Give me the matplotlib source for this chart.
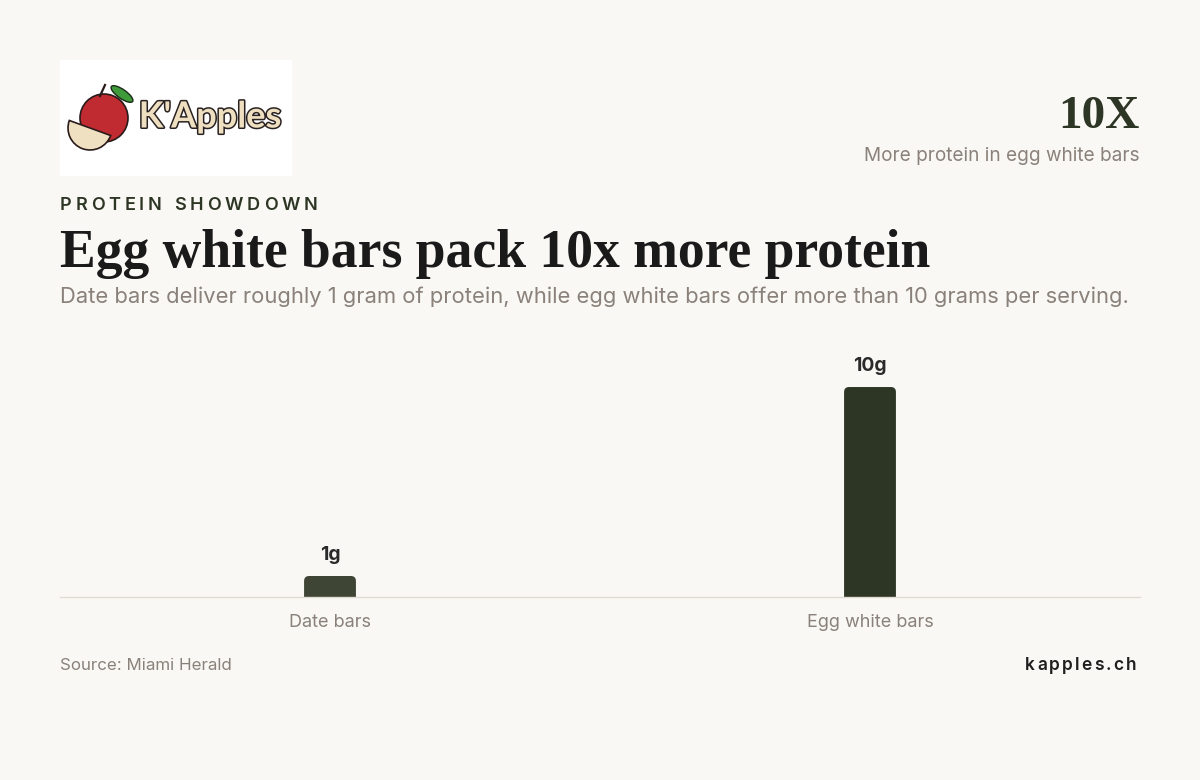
import matplotlib
matplotlib.use("Agg")
import matplotlib.pyplot as plt
from matplotlib.patches import FancyBboxPatch, Circle, Ellipse, Wedge, Rectangle
import matplotlib.patheffects as pe

# ---- data ----
categories = ["Date bars", "Egg white bars"]
values = [1, 10]
value_labels = ["1g", "10g"]
kicker = "PROTEIN SHOWDOWN"
title = "Egg white bars pack 10x more protein"
subtitle = ("Date bars deliver roughly 1 gram of protein, while egg white bars "
            "offer more than 10 grams per serving.")
stat_big = "10X"
stat_caption = "More protein in egg white bars"
source = "Source: Miami Herald"
site = "kapples.ch"

W, H = 1200, 780
BG = "#f9f8f4"
DARK = "#2d3624"
GREY = "#8a817a"

fig = plt.figure(figsize=(W / 100, H / 100), dpi=100, facecolor=BG)

def fx(x):
    return x / W

def fy(y):
    return 1 - y / H

renderer = fig.canvas.get_renderer()

def tracked(x, y, s, tracking, **kw):
    for ch in s:
        t = fig.text(fx(x), fy(y), ch, **kw)
        if ch == " ":
            w = t.get_fontsize() * 0.28 / 0.72
        else:
            w = t.get_window_extent(renderer).width
        x += w + tracking

# ---- logo ----
lax = fig.add_axes([fx(60), fy(176), 232 / W, 116 / H])
lax.set_xlim(0, 232)
lax.set_ylim(116, 0)
lax.axis("off")
lax.add_patch(Rectangle((0, 0), 232, 116, color="white", zorder=0))
lax.add_patch(Circle((44, 58), 24, facecolor="#bf2b30", edgecolor="#2a1a1a", lw=1.2, zorder=2))
lax.add_patch(Ellipse((62, 34), 26, 9, angle=35, facecolor="#3f9a3a", edgecolor="#1c2a1a", lw=1, zorder=3))
lax.plot([40, 45], [36, 25], color="#2a1a1a", lw=1.6, zorder=3)
lax.add_patch(Wedge((30, 68), 22, 20, 200, facecolor="#efe0c2", edgecolor="#2a1a1a", lw=1.2, zorder=4))
lax.text(150, 57, "K'Apples", ha="center", va="center", fontsize=26,
         family="Lato", fontweight="bold", color="#eedfc0",
         path_effects=[pe.withStroke(linewidth=2.2, foreground="#2a2222")], zorder=5)

# ---- header texts ----
tracked(60, 206, kicker, 3.8, fontsize=13, family="Inter", fontweight="semibold",
        color=DARK, va="center", ha="left")
fig.text(fx(60), fy(254), title, fontsize=38.6, family="Liberation Serif",
         fontweight="bold", color="#1a1a1a", va="center", ha="left")
fig.text(fx(60), fy(297), subtitle, fontsize=15.8, family="Inter",
         color=GREY, va="center", ha="left")
fig.text(fx(1140), fy(117), stat_big, fontsize=34, family="Liberation Serif",
         fontweight="bold", color=DARK, va="center", ha="right")
fig.text(fx(1140), fy(156), stat_caption, fontsize=13.7, family="Inter",
         color=GREY, va="center", ha="right")

# ---- chart ----
ax = fig.add_axes([fx(60), fy(597), 1080 / W, 257 / H])
ax.set_facecolor(BG)
ax.set_xlim(-0.5, 1.5)
ax.set_ylim(0, 12.24)
x = list(range(len(categories)))
bars = ax.bar(x, values, width=0.096, color=["#3e4535", DARK])
px_x = 2 / 1080
px_y = 12.24 / 257
for b in bars:
    bx, by = b.get_x(), b.get_y()
    bw, bh = b.get_width(), b.get_height()
    r = 5 * px_x
    p = FancyBboxPatch((bx, by - 0.5), bw, bh + 0.5,
                       boxstyle=f"round,pad=0,rounding_size={r}",
                       mutation_aspect=px_y / px_x,
                       facecolor=b.get_facecolor(), edgecolor="none",
                       clip_on=True, zorder=2)
    ax.add_patch(p)
    b.set_visible(False)
for xi, v, lab in zip(x, values, value_labels):
    ax.annotate(lab, (xi, v), xytext=(0, 9), textcoords="offset points",
                ha="center", va="bottom", fontsize=14, family="Inter",
                fontweight="bold", color="#2a2a2a")
for s in ["top", "right", "left"]:
    ax.spines[s].set_visible(False)
ax.spines["bottom"].set_color("#e2dbd3")
ax.spines["bottom"].set_linewidth(1)
ax.set_yticks([])
ax.set_xticks(x)
ax.set_xticklabels(categories, fontsize=13, family="Inter", color=GREY)
ax.tick_params(axis="x", length=0, pad=12)

# ---- footer ----
fig.text(fx(60), fy(665), source, fontsize=12.2, family="Inter",
         color=GREY, va="center", ha="left")
tracked(1025, 665, site, 2.2, fontsize=12.5, family="Inter", fontweight="semibold",
        color="#1f1f1f", va="center", ha="left")

fig.savefig("out.png", dpi=100, facecolor=BG)
